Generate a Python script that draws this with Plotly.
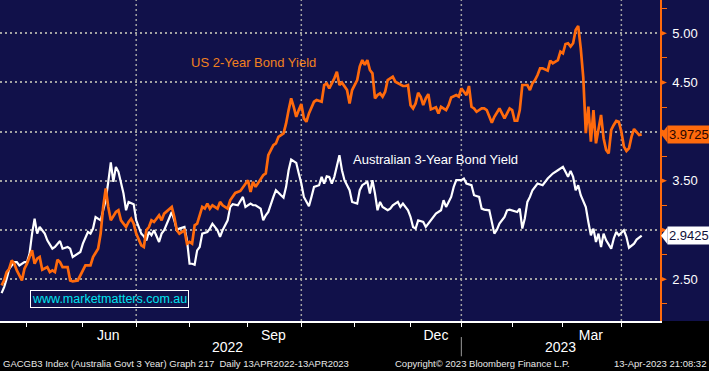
import pandas as pd
import plotly.graph_objects as go

# ---------------- data ----------------
HOLIDAYS = ["2022-04-15", "2022-04-18", "2022-04-25", "2022-06-13", "2022-09-22",
            "2022-12-26", "2022-12-27", "2023-01-02", "2023-01-26"]
trading_days = pd.bdate_range("2022-04-13", "2023-04-13", freq="C", holidays=HOLIDAYS)

# trading-day number (0 = 13 Apr 2022) and yield, Australian 3-year
aus_day = [0, 1, 2, 3, 5, 6, 7, 9, 10, 11, 12, 13, 14, 15, 17, 18, 20, 21, 23, 24, 26, 27, 28, 30, 31, 32,
           34, 35, 36, 37, 39, 40, 41, 42, 43, 44, 45, 46, 47, 48, 49, 50, 52, 53, 55, 56, 57, 58, 59, 60,
           62, 63, 64, 65, 66, 67, 68, 69, 70, 72, 73, 74, 75, 76, 77, 78, 79, 81, 82, 83, 85, 86, 87, 89,
           90, 91, 93, 95, 96, 97, 98, 99, 100, 102, 103, 104, 105, 107, 108, 110, 111, 112, 113, 114, 116,
           117, 118, 119, 121, 122, 123, 125, 126, 127, 128, 129, 130, 131, 133, 134, 135, 137, 138, 140,
           141, 142, 144, 145, 146, 147, 148, 149, 150, 152, 153, 154, 156, 157, 158, 160, 161, 162, 163,
           164, 166, 167, 169, 170, 171, 173, 174, 175, 177, 178, 179, 181, 182, 183, 185, 186, 188, 189,
           190, 192, 193, 194, 195, 196, 198, 199, 200, 202, 203, 204, 205, 206, 207, 208, 209, 211, 212,
           213, 215, 217, 219, 220, 221, 222, 223, 224, 225, 226, 227, 228, 230, 231, 232, 233, 234, 235,
           236, 237, 238, 240, 241, 242, 243, 245, 246, 247, 249, 250, 252]
aus_yield = [2.359, 2.421, 2.505, 2.607, 2.675, 2.675, 2.641, 2.675, 2.675, 2.760, 2.964, 3.116, 2.964, 3.031,
             2.964, 2.896, 2.811, 2.828, 2.889, 2.811, 2.828, 2.811, 2.726, 2.760, 2.777, 2.862,
             2.981, 2.964, 3.015, 3.133, 3.099, 3.201, 3.303, 3.490, 3.687, 3.490, 3.642, 3.592, 3.490, 3.371,
             3.201, 3.286, 3.262, 3.099, 2.964, 2.936, 2.896, 2.981, 2.947, 2.998,
             2.879, 2.964, 2.998, 3.065, 3.116, 3.184, 3.099, 2.998, 3.015, 3.031, 2.896, 2.658, 2.658, 2.648,
             2.794, 2.828, 2.964, 2.981, 3.015, 3.065, 2.998, 2.930, 2.998, 3.099,
             3.235, 3.262, 3.252, 3.337, 3.235, 3.252, 3.269, 3.252, 3.252, 3.218, 3.099, 3.150, 3.184, 3.337,
             3.405, 3.354, 3.330, 3.439, 3.608, 3.717, 3.683,
             3.575, 3.473, 3.337, 3.242, 3.337, 3.439, 3.456, 3.541, 3.473, 3.547, 3.541, 3.473, 3.541, 3.761,
             3.608, 3.507, 3.405, 3.286, 3.269,
             3.405, 3.456, 3.490, 3.371, 3.507, 3.371, 3.201, 3.286, 3.235, 3.201, 3.218, 3.252, 3.286, 3.235,
             3.269, 3.201, 3.133, 3.031, 3.015,
             3.099, 3.082, 3.031, 3.099, 3.133, 3.167, 3.201, 3.303, 3.235, 3.337, 3.439, 3.507, 3.507, 3.524,
             3.473, 3.456, 3.354, 3.337, 3.218,
             3.208, 3.201, 3.065, 2.964, 3.004, 3.065, 3.133, 3.201, 3.208, 3.194, 3.184, 3.218, 3.015, 3.120,
             3.286, 3.337, 3.405, 3.473, 3.463,
             3.456, 3.524, 3.575, 3.608, 3.625, 3.642, 3.592, 3.541, 3.602, 3.541, 3.405, 3.456, 3.354, 3.235,
             3.082, 2.947, 3.015, 2.879, 2.964,
             2.828, 2.964, 2.896, 2.811, 2.913, 2.981, 2.947, 2.998, 2.930, 2.821, 2.862, 2.903, 2.9425]

# trading-day number and yield, US 2-year
us_day = [0, 1, 2, 3, 4, 5, 6, 8, 9, 10, 11, 12, 13, 14, 15, 16, 18, 19, 20, 21, 22, 23, 24, 26, 27, 28, 30,
          31, 33, 35, 36, 38, 39, 40, 41, 42, 43, 45, 46, 47, 49, 50, 51, 52, 53, 55, 56, 57, 58, 59, 60, 62,
          63, 64, 66, 67, 68, 69, 70, 72, 73, 74, 75, 76, 77, 79, 80, 81, 82, 83, 85, 86, 87, 89, 90, 91, 92,
          94, 95, 97, 98, 99, 100, 102, 103, 104, 105, 106, 107, 108, 109, 111, 112, 113, 114, 115, 116, 117,
          118, 119, 120, 121, 123, 124, 126, 127, 128, 129, 131, 132, 133, 134, 136, 137, 138, 140, 141, 142,
          143, 144, 145, 146, 147, 148, 149, 150, 151, 152, 154, 155, 156, 158, 159, 160, 161, 162, 163, 164,
          165, 166, 167, 168, 169, 171, 172, 173, 175, 176, 177, 179, 180, 181, 182, 183, 184, 185, 186, 187,
          189, 190, 191, 193, 194, 195, 196, 197, 198, 199, 200, 201, 202, 203, 204, 205, 207, 208, 209, 210,
          211, 212, 213, 215, 216, 217, 219, 220, 221, 222, 223, 224, 225, 226, 227, 228, 229, 230, 231, 232,
          233, 234, 235, 236, 237, 238, 239, 240, 241, 242, 243, 244, 245, 246, 247, 248, 249, 250, 251, 252]
us_yield = [2.438, 2.488, 2.573, 2.607, 2.692, 2.658, 2.590, 2.488, 2.607, 2.658, 2.726, 2.794, 2.658, 2.709,
            2.726, 2.597, 2.624, 2.573, 2.590, 2.573, 2.699, 2.675, 2.624, 2.624, 2.488, 2.478, 2.488,
            2.539, 2.641, 2.641, 2.726, 2.811, 2.964, 3.235, 3.422, 3.235, 3.099, 3.184, 3.201, 3.099, 3.031,
            3.082, 3.116, 3.065, 2.964, 2.845, 2.828, 2.998, 3.031, 3.099, 3.082, 3.150,
            3.099, 3.167, 3.218, 3.235, 3.133, 2.998, 2.964, 2.998, 2.862, 2.879, 2.862, 3.048, 3.065, 3.235,
            3.218, 3.269, 3.218, 3.252, 3.218, 3.286, 3.252, 3.218, 3.303, 3.337, 3.378,
            3.398, 3.439, 3.507, 3.388, 3.490, 3.439, 3.524, 3.558, 3.575, 3.761, 3.812, 3.863, 3.880, 3.948,
            3.982, 4.084, 4.219, 4.338, 4.253, 4.151, 4.219,
            4.280, 4.135, 4.101, 4.185, 4.304, 4.321, 4.304, 4.474, 4.491, 4.440, 4.542, 4.610, 4.474, 4.498,
            4.423, 4.287, 4.423, 4.525, 4.661, 4.728,
            4.678, 4.728, 4.627, 4.593, 4.338, 4.372, 4.389, 4.355, 4.406, 4.525, 4.559, 4.508, 4.491, 4.464,
            4.464, 4.474, 4.270, 4.236, 4.287, 4.396,
            4.355, 4.270, 4.338, 4.382, 4.226, 4.247, 4.185, 4.253, 4.219, 4.270, 4.348, 4.372, 4.355, 4.440,
            4.406, 4.372, 4.464, 4.253, 4.236, 4.202,
            4.236, 4.236, 4.219, 4.090, 4.151, 4.202, 4.236, 4.185, 4.135, 4.185, 4.236, 4.219, 4.111, 4.111,
            4.219, 4.474, 4.474, 4.423, 4.491, 4.525,
            4.576, 4.644, 4.644, 4.620, 4.722, 4.695, 4.728, 4.813, 4.796, 4.891, 4.898, 4.864, 4.898, 5.034,
            5.075, 4.850, 4.550, 3.984, 4.254, 3.898,
            4.220, 3.882, 4.034, 4.170, 3.933, 3.814, 3.780, 4.017, 4.068, 4.109, 4.100, 4.000, 3.848, 3.804,
            3.831, 3.949, 4.027, 4.000, 3.966, 3.9725]

y_tick_values = [2.5, 3.0, 3.5, 4.0, 4.5, 5.0]
y_tick_labels = ["2.50", "3.00", "3.50", "4.00", "4.50", "5.00"]
y_minor_values = [2.25, 2.75, 3.25, 3.75, 4.25, 4.75, 5.25]
month_starts = ["2022-05-02", "2022-06-01", "2022-07-01", "2022-08-01", "2022-09-01", "2022-10-03",
                "2022-11-01", "2022-12-01", "2023-01-03", "2023-02-01", "2023-03-01", "2023-04-03"]
quarter_starts = ["2022-07-01", "2022-10-03", "2023-01-03", "2023-04-03"]
month_label_days = ["2022-06-16", "2022-09-15", "2022-12-15", "2023-03-16"]
month_labels = ["Jun", "Sep", "Dec", "Mar"]
year_label_days = ["2022-08-22", "2023-02-28"]
year_labels = ["2022", "2023"]
year_boundary = "2023-01-03"

# ---------------- style ----------------
NAVY = "#11114a"
ORANGE = "#ff6a0c"
GRID = "#a3a3a3"
ARIAL = "Liberation Sans, Arimo, Arial, sans-serif"

aus_x = [trading_days[i] for i in aus_day]
us_x = [trading_days[i] for i in us_day]

# tick labels hidden behind the last-value boxes
last_values = [us_yield[-1], aus_yield[-1]]
shown_labels = ["" if any(abs(t - lv) < 0.15 for lv in last_values) else lab
                for t, lab in zip(y_tick_values, y_tick_labels)]

fig = go.Figure()
fig.add_trace(go.Scatter(x=aus_x, y=aus_yield, mode="lines",
                         line=dict(color="white", width=2.2), name="Australian 3-Year Bond Yield"))
fig.add_trace(go.Scatter(x=us_x, y=us_yield, mode="lines",
                         line=dict(color=ORANGE, width=2.7), name="US 2-Year Bond Yield"))

fig.update_layout(
    width=709, height=371,
    margin=dict(l=0, r=49, t=0, b=50),
    paper_bgcolor=NAVY, plot_bgcolor=NAVY,
    showlegend=False,
    xaxis=dict(
        type="date",
        range=["2022-04-12 09:00", "2023-04-24 05:00"],
        rangebreaks=[dict(bounds=["sat", "mon"]), dict(values=HOLIDAYS)],
        tickmode="array", tickvals=month_label_days, ticktext=month_labels,
        ticks="", showgrid=False, zeroline=False,
        showline=True, linecolor="white", linewidth=1.5,
        tickfont=dict(family=ARIAL, size=14, color="white"),
        minor=dict(tickmode="array", tickvals=month_starts, ticks="outside", ticklen=4,
                   tickcolor="white", tickwidth=1, showgrid=False),
    ),
    yaxis=dict(
        side="right",
        range=[2.076, 5.338],
        tickmode="array", tickvals=y_tick_values, ticktext=shown_labels,
        ticks="outside", ticklen=8, tickcolor="rgba(0,0,0,0)",
        showgrid=True, gridcolor=GRID, gridwidth=1.5, griddash="2px,3px",
        zeroline=False,
        showline=True, linecolor=ORANGE, linewidth=1.5,
        tickfont=dict(family=ARIAL, size=13, color="white"),
        minor=dict(tickmode="array", tickvals=y_minor_values, ticks="outside", ticklen=5,
                   tickcolor=ORANGE, tickwidth=1, showgrid=False),
    ),
)

shapes = []
# black band under the plot
shapes.append(dict(type="rect", xref="paper", yref="paper", x0=-0.02, x1=1.1, y0=-0.2, y1=0,
                   fillcolor="black", line=dict(width=0), layer="below"))
# quarter gridlines
for d in quarter_starts:
    shapes.append(dict(type="line", xref="x", yref="paper", x0=d, x1=d, y0=0, y1=1,
                       line=dict(color=GRID, width=1.5, dash="2px,3px"), layer="below"))
# year separator
shapes.append(dict(type="line", xref="x", yref="paper", x0=year_boundary, x1=year_boundary,
                   y0=-0.05, y1=-0.11, line=dict(color="#9a9a9a", width=1)))
# orange arrow marks on major y ticks
for v in y_tick_values:
    shapes.append(dict(type="path", xref="paper", yref="y", xsizemode="pixel", ysizemode="pixel",
                       xanchor=1, yanchor=v, path="M0,-3 L7,0 L0,3 Z",
                       fillcolor=ORANGE, line=dict(width=0)))

# last-value boxes
last_boxes = [(us_yield[-1], ORANGE, "#2a0500"), (aus_yield[-1], "white", "#10103a")]
annotations = []
for val, bg, fg in last_boxes:
    shapes.append(dict(type="path", xref="paper", yref="y", xsizemode="pixel", ysizemode="pixel",
                       xanchor=667 / 660, yanchor=val, path="M-6,0 L0.5,8.5 L0.5,-8.5 Z",
                       fillcolor=bg, line=dict(width=0)))
    annotations.append(dict(xref="paper", yref="y", x=667 / 660, y=val, xanchor="left", yanchor="middle",
                            text=f"{val:.4f}", showarrow=False, bgcolor=bg, borderpad=1,
                            width=46, height=15, align="left",
                            font=dict(family=ARIAL, size=13, color=fg)))

annotations += [
    dict(xref="paper", yref="paper", x=189 / 660, y=0.805, xanchor="left", yanchor="middle",
         text="US 2-Year Bond Yield", showarrow=False, font=dict(family=ARIAL, size=13, color="#f2811e")),
    dict(xref="paper", yref="paper", x=351 / 660, y=0.504, xanchor="left", yanchor="middle",
         text="Australian 3-Year Bond Yield", showarrow=False, font=dict(family=ARIAL, size=13, color="white")),
    dict(xref="paper", yref="paper", x=30 / 660, y=0.070, xanchor="left", yanchor="middle",
         text="www.marketmatters.com.au", showarrow=False, bordercolor="white", borderwidth=1, borderpad=1,
         font=dict(family=ARIAL, size=12.5, color="#00e4f0")),
]
for d, t in zip(year_label_days, year_labels):
    annotations.append(dict(xref="x", yref="paper", x=d, y=-0.081, xanchor="center", yanchor="middle",
                            text=t, showarrow=False, font=dict(family=ARIAL, size=14, color="white")))
footer = [
    (1 / 660, "left", "GACGB3 Index (Australia Govt 3 Year) Graph 217  Daily 13APR2022-13APR2023"),
    (393 / 660, "left", "Copyright\u00a9 2023 Bloomberg Finance L.P."),
    (708 / 660, "right", "13-Apr-2023 21:08:32"),
]
for x, anc, t in footer:
    annotations.append(dict(xref="paper", yref="paper", x=x, y=-0.131, xanchor=anc, yanchor="middle",
                            text=t, showarrow=False, font=dict(family=ARIAL, size=9.5, color="#e8e8e8")))

fig.update_layout(shapes=shapes, annotations=annotations)
fig.write_html("out.html", config={"displayModeBar": False},
               post_script="document.body.style.margin='0';")
